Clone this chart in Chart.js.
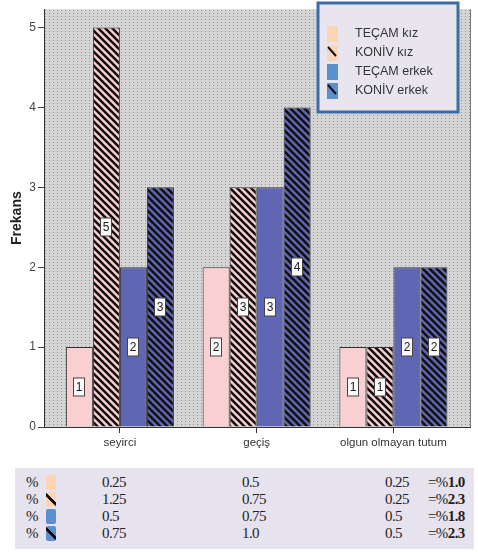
<!DOCTYPE html>
<html lang="tr">
<head>
<meta charset="UTF-8">
<title>Frekans</title>
<script src="https://cdn.jsdelivr.net/npm/chart.js"></script>
<style>
    body {
        margin: 0;
        width: 478px;
        height: 552px;
        overflow: hidden;
        position: relative;
        background: #fff;
        font-family: "Liberation Sans", Arial, sans-serif;
    }
    #chart-box {
        position: absolute;
        left: 0;
        top: 0;
        width: 478px;
        height: 460px;
    }
    #pct {
        position: absolute;
        left: 15px;
        top: 468px;
        width: 459px;
        height: 81px;
        background: #e6e3ee;
    }
    #pct span {
        position: absolute;
        font-family: "Liberation Serif", "Times New Roman", serif;
        font-size: 15px;
        line-height: 17px;
        color: #222;
        letter-spacing: -0.6px;
        white-space: nowrap;
    }
    #pct .sw {
        width: 10px;
        height: 15px;
        border-radius: 2px;
    }
    #pct b { font-weight: bold; }
</style>
</head>
<body>
<div id="chart-box"><canvas id="myChart"></canvas></div>
<div id="pct"></div>

<script>
    // data
    const categories = ['seyirci', 'geçiş', 'olgun olmayan tutum'];
    const seriesNames = ['TEÇAM kız', 'KONİV kız', 'TEÇAM erkek', 'KONİV erkek'];
    const tecamKiz = [1, 2, 1];
    const konivKiz = [5, 3, 1];
    const tecamErkek = [2, 3, 2];
    const konivErkek = [3, 4, 2];
    const yTicks = [0, 1, 2, 3, 4, 5];

    // percentage table under the chart
    const pctTecamKiz = ['0.25', '0.5', '0.25'];
    const pctKonivKiz = ['1.25', '0.75', '0.25'];
    const pctTecamErkek = ['0.5', '0.75', '0.5'];
    const pctKonivErkek = ['0.75', '1.0', '0.5'];
    const pctTotals = ['1.0', '2.3', '1.8', '2.3'];

    const pink = '#f9cfd1';
    const blue = '#5f66b3';
    const legendPeach = '#fbd5b6';
    const legendBlue = '#5b8fd1';

    function hatch(bg) {
        let c = document.createElement('canvas');
        c.width = 7; c.height = 7;
        let g = c.getContext('2d');
        g.fillStyle = bg;
        g.fillRect(0, 0, 7, 7);
        g.strokeStyle = '#111';
        g.lineWidth = 2.6;
        g.beginPath();
        g.moveTo(-1, -1); g.lineTo(8, 8);
        g.moveTo(-1, 6); g.lineTo(1, 8);
        g.moveTo(6, -1); g.lineTo(8, 1);
        g.stroke();
        return g.createPattern(c, 'repeat');
    }

    function dots() {
        let c = document.createElement('canvas');
        c.width = 4; c.height = 3;
        let g = c.getContext('2d');
        g.fillStyle = '#d5d5d5';
        g.fillRect(0, 0, 4, 3);
        g.fillStyle = '#939393';
        g.fillRect(1, 1, 1, 1);
        return g.createPattern(c, 'repeat');
    }

    const toPoints = arr => arr.map((v, i) => ({x: i, y: v}));

    // dotted plot background + right frame line
    const plotBg = {
        id: 'plotBg',
        beforeDraw(chart) {
            let a = chart.chartArea, ctx = chart.ctx;
            ctx.save();
            ctx.fillStyle = dots();
            ctx.fillRect(a.left, a.top, a.right - a.left, a.bottom - a.top);
            ctx.strokeStyle = '#777';
            ctx.lineWidth = 1;
            ctx.beginPath();
            ctx.moveTo(a.right + 0.5, a.top);
            ctx.lineTo(a.right + 0.5, a.bottom);
            ctx.stroke();
            ctx.restore();
        }
    };

    // value boxes in the middle of every bar
    const barLabels = {
        id: 'barLabels',
        afterDatasetsDraw(chart) {
            let ctx = chart.ctx;
            ctx.save();
            ctx.font = '12px "Liberation Sans", Arial';
            ctx.textAlign = 'center';
            ctx.textBaseline = 'middle';
            chart.data.datasets.forEach((ds, di) => {
                chart.getDatasetMeta(di).data.forEach((el, i) => {
                    let cx = Math.round(el.x), cy = Math.round((el.y + el.base) / 2);
                    ctx.fillStyle = '#fafafa';
                    ctx.fillRect(cx - 5.5, cy - 9, 11, 18);
                    ctx.strokeStyle = '#444';
                    ctx.lineWidth = 1;
                    ctx.strokeRect(cx - 5.5, cy - 9, 11, 18);
                    ctx.fillStyle = '#222';
                    ctx.fillText(String(ds.data[i].y), cx, cy + 1);
                });
            });
            ctx.restore();
        }
    };

    // legend box in the top right of the plot
    const boxLegend = {
        id: 'boxLegend',
        afterDraw(chart) {
            let ctx = chart.ctx, a = chart.chartArea;
            let x = a.right - 152, y = 3, w = 140, h = 109;
            ctx.save();
            ctx.fillStyle = '#e9e5ef';
            ctx.fillRect(x, y, w, h);
            ctx.strokeStyle = '#3e6ba7';
            ctx.lineWidth = 3;
            ctx.strokeRect(x, y, w, h);
            ctx.font = '12.5px "Liberation Sans", Arial';
            ctx.textBaseline = 'middle';
            chart.data.datasets.forEach((ds, i) => {
                let cy = 34 + i * 19;
                ctx.fillStyle = i < 2 ? legendPeach : legendBlue;
                ctx.fillRect(x + 9, cy - 8, 11, 16);
                if (i % 2 === 1) {
                    ctx.strokeStyle = '#111';
                    ctx.lineWidth = 2;
                    ctx.beginPath();
                    ctx.moveTo(x + 10, cy - 6);
                    ctx.lineTo(x + 18, cy + 3);
                    ctx.stroke();
                }
                ctx.fillStyle = '#333';
                ctx.fillText(ds.label, x + 37, cy);
            });
            ctx.restore();
        }
    };

    const ctx = document.getElementById('myChart').getContext('2d');
    Chart.defaults.font.family = '"Liberation Sans", Arial, sans-serif';

    new Chart(ctx, {
        type: 'bar',
        data: {
            datasets: [
                {label: seriesNames[0], data: toPoints(tecamKiz), backgroundColor: pink},
                {label: seriesNames[1], data: toPoints(konivKiz), backgroundColor: hatch(pink)},
                {label: seriesNames[2], data: toPoints(tecamErkek), backgroundColor: blue},
                {label: seriesNames[3], data: toPoints(konivErkek), backgroundColor: hatch(blue)}
            ]
        },
        options: {
            responsive: true,
            maintainAspectRatio: false,
            animation: false,
            layout: {padding: {top: 1, right: 8, left: 0, bottom: 0}},
            datasets: {
                bar: {
                    borderColor: '#333',
                    borderWidth: 1,
                    categoryPercentage: 0.79,
                    barPercentage: 1.0
                }
            },
            plugins: {
                legend: {display: false},
                tooltip: {enabled: false}
            },
            scales: {
                x: {
                    type: 'linear',
                    offset: false,
                    min: -0.555,
                    max: 2.56,
                    afterBuildTicks: s => { s.ticks = categories.map((c, i) => ({value: i})); },
                    afterFit: s => { s.height = 33; },
                    grid: {drawOnChartArea: false, offset: false, tickLength: 6, color: '#333'},
                    border: {color: '#333'},
                    ticks: {
                        padding: 3,
                        color: '#333',
                        font: {size: 11.5},
                        autoSkip: false,
                        maxRotation: 0,
                        callback: v => categories[v]
                    }
                },
                y: {
                    min: 0,
                    max: 5.23,
                    afterBuildTicks: s => { s.ticks = yTicks.map(v => ({value: v})); },
                    afterFit: s => { s.width = 44; },
                    grid: {drawOnChartArea: false, tickLength: 6, color: '#444'},
                    border: {color: '#333'},
                    ticks: {padding: 2, color: '#444', font: {size: 12}},
                    title: {
                        display: true,
                        text: 'Frekans',
                        color: '#222',
                        font: {size: 14, weight: 'bold'},
                        padding: {top: 9, bottom: 0}
                    }
                }
            }
        },
        plugins: [plotBg, barLabels, boxLegend]
    });

    // build the percentage table
    const pctRows = [pctTecamKiz, pctKonivKiz, pctTecamErkek, pctKonivErkek];
    const colX = [87, 227, 370];
    const box = document.getElementById('pct');
    pctRows.forEach((row, r) => {
        let top = 6 + r * 17;
        let html = `<span style="left:11px;top:${top}px">%</span>`;
        let sw = r < 2 ? legendPeach : legendBlue;
        let slash = r % 2 === 1
            ? 'background-image:linear-gradient(45deg, transparent 42%, #111 42%, #111 58%, transparent 58%);'
            : '';
        html += `<span class="sw" style="left:31px;top:${top + 1}px;background-color:${sw};${slash}"></span>`;
        row.forEach((v, c) => {
            html += `<span style="left:${colX[c]}px;top:${top}px">${v}</span>`;
        });
        html += `<span style="left:413px;top:${top}px">=%<b>${pctTotals[r]}</b></span>`;
        box.innerHTML += html;
    });
</script>
</body>
</html>
